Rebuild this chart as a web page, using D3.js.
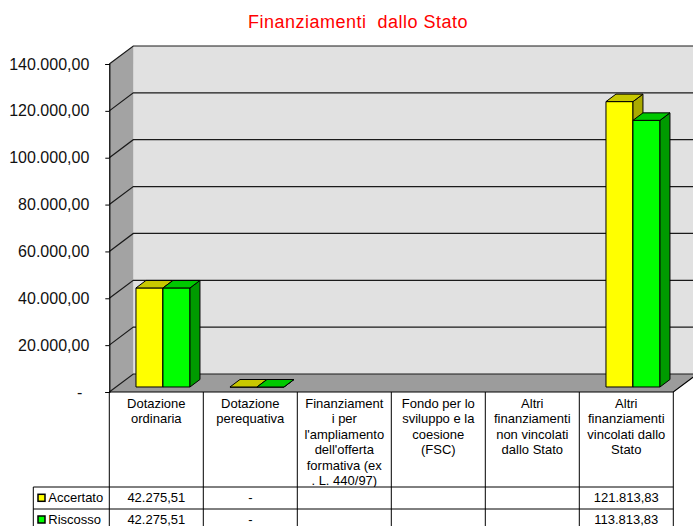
<!DOCTYPE html>
<html>
<head>
<meta charset="utf-8">
<script src="https://cdn.jsdelivr.net/npm/d3@7"></script>
<style>
  html, body { margin: 0; padding: 0; background: #fff; }
  svg { display: block; }
  text { font-family: "Liberation Sans", Arial, sans-serif; }
</style>
</head>
<body>
<svg id="chart" width="693" height="526"></svg>
<script>
// ---- DATA ----
const title = "Finanziamenti  dallo Stato";
const categories = [
  "Dotazione ordinaria",
  "Dotazione perequativa",
  "Finanziamenti per l'ampliamento dell'offerta formativa (ex . L. 440/97)",
  "Fondo per lo sviluppo e la coesione (FSC)",
  "Altri finanziamenti non vincolati dallo Stato",
  "Altri finanziamenti vincolati dallo Stato"
];
const categoryLines = [
  ["Dotazione", "ordinaria"],
  ["Dotazione", "perequativa"],
  ["Finanziament", "i per", "l'ampliamento", "dell'offerta", "formativa (ex", ". L. 440/97)"],
  ["Fondo per lo", "sviluppo e la", "coesione", "(FSC)"],
  ["Altri", "finanziamenti", "non vincolati", "dallo Stato"],
  ["Altri", "finanziamenti", "vincolati dallo", "Stato"]
];
const seriesNames = ["Accertato", "Riscosso"];
const accertato = [42275.51, 0, null, null, null, 121813.83];
const riscosso  = [42275.51, 0, null, null, null, 113813.83];
const yTicks = [0, 20000, 40000, 60000, 80000, 100000, 120000, 140000];

// ---- STYLE / LAYOUT ----
const colors = {
  Accertato: { front: "#ffff00", top: "#c8c800", side: "#aaaa00" },
  Riscosso:  { front: "#00ff00", top: "#00c800", side: "#009a00" }
};
const plotLeft = 109.3, plotRight = 673.3, plotTop = 64, plotBottom = 392;
const DX = 24, DY = -18;          // depth offset of the 3D box
const Z0 = 0.278, Z1 = 0.694;     // bar depth (fraction of box depth)

const svg = d3.select("#chart");
const it = d3.formatLocale({ decimal: ",", thousands: ".", grouping: [3], currency: ["€", ""] });
const fmt = it.format(",.2f");

const x = d3.scaleBand().domain(categories).range([plotLeft, plotRight]).padding(0);
const inner = d3.scaleBand().domain(seriesNames).range([20, 74]).padding(0);
const y = d3.scaleLinear().domain([0, 140000]).range([plotBottom, plotTop]);

const P = (px, py, z) => [px + z * DX, py + z * DY];
const poly = pts => pts.map(p => p.join(",")).join(" ");

const y0 = y(0), yMax = y(140000);

// back wall
svg.append("polygon")
  .attr("points", poly([P(plotLeft, yMax, 1), P(plotRight, yMax, 1), P(plotRight, y0, 1), P(plotLeft, y0, 1)]))
  .attr("fill", "#e1e1e1");
// side wall
svg.append("polygon")
  .attr("points", poly([P(plotLeft, yMax, 0), P(plotLeft, yMax, 1), P(plotLeft, y0, 1), P(plotLeft, y0, 0)]))
  .attr("fill", "#a3a3a3");
// floor
svg.append("polygon")
  .attr("points", poly([P(plotLeft, y0, 0), P(plotRight, y0, 0), P(plotRight, y0, 1), P(plotLeft, y0, 1)]))
  .attr("fill", "#9c9c9c");

// gridlines (side wall diagonal + back wall horizontal)
const grid = svg.append("g").attr("stroke", "#1a1a1a").attr("stroke-width", 1.2).attr("fill", "none");
yTicks.forEach(t => {
  const a = P(plotLeft, y(t), 0), b = P(plotLeft, y(t), 1), c = P(plotRight, y(t), 1);
  grid.append("polyline").attr("points", poly([a, b, c]));
});
// floor edges
svg.append("polyline")
  .attr("points", poly([P(plotLeft, y0, 0), P(plotRight, y0, 0), P(plotRight, y0, 1)]))
  .attr("fill", "none").attr("stroke", "#000").attr("stroke-width", 1.2);

// bars
const seriesValues = { Accertato: accertato, Riscosso: riscosso };
const barG = svg.append("g").attr("stroke", "#000").attr("stroke-width", 1).attr("stroke-linejoin", "round");
categories.forEach((cat, i) => {
  seriesNames.forEach(s => {
    const v = seriesValues[s][i];
    if (v === null || v === undefined) return;
    const x0 = x(cat) + inner(s), x1 = x0 + inner.bandwidth();
    const yv = y(v);
    const c = colors[s];
    barG.append("polygon").attr("fill", c.front)
      .attr("points", poly([P(x0, y0, Z0), P(x1, y0, Z0), P(x1, yv, Z0), P(x0, yv, Z0)]));
    barG.append("polygon").attr("fill", c.side)
      .attr("points", poly([P(x1, y0, Z0), P(x1, y0, Z1), P(x1, yv, Z1), P(x1, yv, Z0)]));
    barG.append("polygon").attr("fill", c.top)
      .attr("points", poly([P(x0, yv, Z0), P(x1, yv, Z0), P(x1, yv, Z1), P(x0, yv, Z1)]));
  });
});

// y axis
const yAxis = d3.axisLeft(y).tickValues(yTicks).tickSize(4).tickPadding(16)
  .tickFormat(d => d === 0 ? "-" : fmt(d));
const ya = svg.append("g").attr("transform", `translate(${plotLeft},0)`).call(yAxis);
ya.select(".domain").attr("stroke", "#000").attr("stroke-width", 1.2);
ya.selectAll(".tick line").attr("stroke", "#000");
ya.selectAll(".tick text").attr("font-size", 16).attr("fill", "#111")
  .attr("font-family", "'Liberation Sans', Arial, sans-serif")
  .attr("dx", d => d === 0 ? -7 : 0);

// title
svg.append("text").attr("x", 358).attr("y", 28).attr("text-anchor", "middle")
  .attr("font-size", 18).attr("letter-spacing", 0.5).attr("fill", "#ff0000")
  .attr("xml:space", "preserve").style("white-space", "pre").text(title);

// ---- data table ----
const tHeadBottom = 487, row1Bottom = 509, tBottom = 530, legendLeft = 33.3;
const table = svg.append("g");
const clip = svg.append("defs").append("clipPath").attr("id", "hdrclip");
clip.append("rect").attr("x", plotLeft).attr("y", plotBottom).attr("width", plotRight - plotLeft).attr("height", tHeadBottom - plotBottom);

// header text
const hdr = table.append("g").attr("clip-path", "url(#hdrclip)");
categories.forEach((cat, i) => {
  const cx = x(cat) + x.bandwidth() / 2;
  categoryLines[i].forEach((ln, k) => {
    hdr.append("text").attr("x", cx).attr("y", 407.5 + k * 15.5)
      .attr("text-anchor", "middle").attr("font-size", 13).attr("fill", "#000").text(ln);
  });
});

// value rows
const rowBase = [501.8, 523.5];
seriesNames.forEach((s, r) => {
  categories.forEach((cat, i) => {
    const v = seriesValues[s][i];
    const label = v === null ? "" : (v === 0 ? "-" : fmt(v));
    table.append("text").attr("x", x(cat) + x.bandwidth() / 2).attr("y", rowBase[r])
      .attr("text-anchor", "middle").attr("font-size", 13).attr("fill", "#000").text(label);
  });
  // legend key
  table.append("rect").attr("x", 38).attr("y", rowBase[r] - 7.5).attr("width", 7).attr("height", 7)
    .attr("fill", colors[s].front).attr("stroke", "#000").attr("stroke-width", 1.5);
  table.append("text").attr("x", 48.3).attr("y", rowBase[r]).attr("font-size", 13).attr("fill", "#000").text(s);
});

// table grid lines
const tl = table.append("g").attr("stroke", "#000").attr("stroke-width", 1).attr("fill", "none");
const colEdges = categories.map(c => x(c)).concat([plotRight]);
colEdges.forEach(cx => {
  tl.append("line").attr("x1", cx).attr("x2", cx).attr("y1", plotBottom).attr("y2", tBottom);
});
tl.append("line").attr("x1", legendLeft).attr("x2", legendLeft).attr("y1", tHeadBottom).attr("y2", tBottom);
[tHeadBottom, row1Bottom].forEach(yy => {
  tl.append("line").attr("x1", legendLeft).attr("x2", plotRight).attr("y1", yy).attr("y2", yy);
});
</script>
</body>
</html>
